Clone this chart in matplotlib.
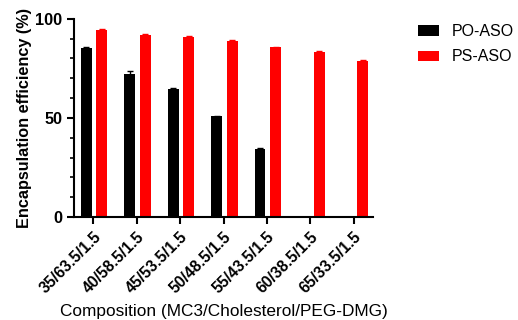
import numpy as np
import matplotlib.pyplot as plt
from matplotlib.ticker import MultipleLocator

plt.rcParams["font.family"] = ["Liberation Sans", "DejaVu Sans"]

compositions = ["35/63.5/1.5", "40/58.5/1.5", "45/53.5/1.5", "50/48.5/1.5",
                "55/43.5/1.5", "60/38.5/1.5", "65/33.5/1.5"]
po_aso = [85.4, 72.4, 64.6, 50.8, 34.5, np.nan, np.nan]
po_err = [0.6, 1.2, 0.3, 0.4, 0.3, 0, 0]
ps_aso = [94.6, 91.9, 91.0, 88.9, 85.7, 83.3, 78.9]
ps_err = [0.4, 0.3, 0.4, 0.3, 0.3, 0.3, 0.4]

x = np.arange(len(compositions))
w = 0.25

fig = plt.figure(figsize=(5.18, 3.2), dpi=100)
ax = fig.add_axes([0.143, 0.322, 0.577, 0.619])

ax.bar(x - 0.16, po_aso, w, color="black", label="PO-ASO",
       yerr=po_err, error_kw=dict(ecolor="black", capsize=2, elinewidth=1))
ax.bar(x + 0.2, ps_aso, w, color="#ff0000", label="PS-ASO",
       yerr=ps_err, error_kw=dict(ecolor="#ff0000", capsize=2, elinewidth=1))

ax.set_xlim(-0.44, 6.44)
ax.set_ylim(0, 100)
ax.yaxis.set_major_locator(MultipleLocator(50))
ax.yaxis.set_minor_locator(MultipleLocator(10))
ax.set_xticks(x)
ax.set_xticklabels(compositions, rotation=45, ha="right", rotation_mode="anchor",
                   fontweight="bold", fontsize=11.3)
for lab in ax.get_yticklabels():
    lab.set_fontweight("bold")
    lab.set_fontsize(11.7)

for s in ["top", "right"]:
    ax.spines[s].set_visible(False)
for s in ["left", "bottom"]:
    ax.spines[s].set_linewidth(1.5)
ax.tick_params(axis="both", which="major", width=1.5, length=5)
ax.tick_params(axis="y", which="minor", width=1.2, length=3)

ax.set_ylabel("Encapsulation efficiency (%)", fontweight="bold", fontsize=11.7,
              labelpad=2)
ax.set_xlabel("Composition (MC3/Cholesterol/PEG-DMG)", fontsize=12.4, labelpad=6)

ax.legend(loc="upper left", bbox_to_anchor=(0.807, 0.925),
          bbox_transform=fig.transFigure, frameon=False, borderpad=0,
          borderaxespad=0, fontsize=11.5, handlelength=1.3, handleheight=0.62,
          labelspacing=0.65, handletextpad=0.8)

fig.savefig("out.png", dpi=100)
